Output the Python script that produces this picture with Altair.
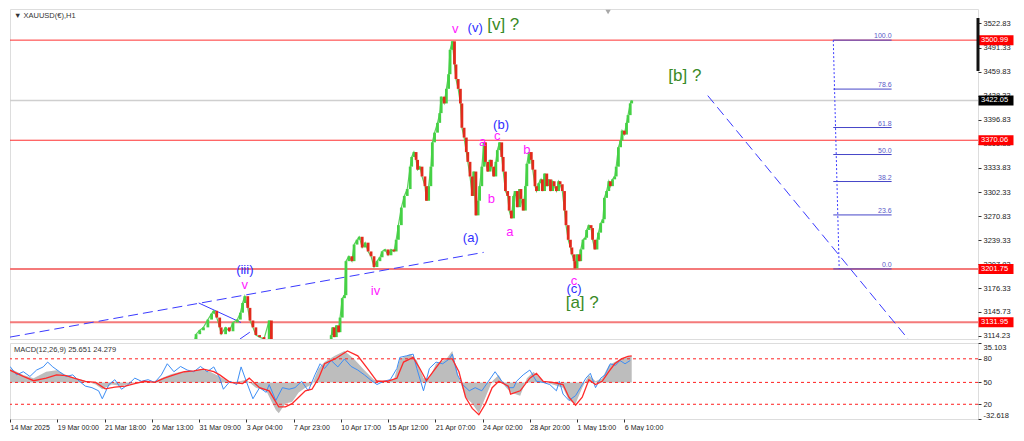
import altair as alt
import pandas as pd

FONT = "Liberation Sans"

# ---------------- x axis: hourly bar index (64 bars between date labels) ----------------
date_tick_bars = [0, 64, 128, 192, 256, 320, 384, 448, 512, 576, 640, 704, 768, 832]
date_tick_labels = ["14 Mar 2025", "19 Mar 00:00", "21 Mar 18:00", "26 Mar 13:00", "31 Mar 09:00",
                    "3 Apr 04:00", "7 Apr 23:00", "10 Apr 17:00", "15 Apr 12:00", "21 Apr 07:00",
                    "24 Apr 02:00", "28 Apr 20:00", "1 May 15:00", "6 May 10:00"]
x_max_bar = 1311

# ---------------- price axis ----------------
price_axis_values = [3522.83, 3491.33, 3459.83, 3428.33, 3396.83, 3365.33, 3333.83, 3302.33,
                     3270.83, 3239.33, 3207.83, 3176.33, 3145.73, 3114.23]
price_min = 3110.1
price_max = 3541.7

# ---------------- XAUUSD H1 closes (sampled) ----------------
close_bars = [0, 16, 32, 48, 64, 80, 96, 112, 128, 144, 160, 176, 192, 208, 224, 240, 248,
              252, 257, 262, 268, 273, 276, 280, 284, 286, 292, 297, 302, 308, 312, 315, 318, 322, 325,
              329, 333, 338, 344, 351, 354, 362, 372, 382, 392, 404, 416, 426, 432,
              435, 437, 439, 442, 445, 447, 450, 453, 455, 459, 463, 466, 470, 473, 477, 481, 485, 489,
              493, 497, 501, 504, 508, 512, 516, 520, 523, 526, 530, 534, 538, 542, 544, 547, 550, 552,
              555, 558, 562, 564, 567, 570, 572, 575, 579, 582, 584, 588, 591, 594, 596, 599, 602, 604,
              607, 610, 612, 615, 618, 620, 623, 626, 628, 631, 634, 636, 639, 642, 644, 647, 650, 652,
              655, 658, 660, 663, 666, 668, 671, 674, 676, 679, 682, 684, 687, 690, 692, 695, 698, 700,
              703, 706, 708, 711, 713, 716, 719, 721, 724, 727, 729, 732, 735, 737, 740, 743, 745, 748,
              751, 753, 756, 759, 761, 764, 765, 768, 771, 773, 776, 779, 781, 784, 787, 789, 792, 795,
              797, 800, 803, 805, 808, 811, 813, 816, 819, 821, 824, 827, 829, 832, 835, 837, 840, 842]
close_prices = [2988, 2982, 3000, 3035, 3030, 3045, 3052, 3048, 3025, 3022, 3012, 3018, 3020, 3034, 3058, 3080, 3100,
                3116.4, 3121.5, 3125.3, 3135.5, 3143.2, 3147.0, 3138.1, 3125.3, 3116.4, 3125.3, 3120.2, 3131.7,
                3135.5, 3144.5, 3157.2, 3166.1, 3150.8, 3134.3,
                3125.3, 3115.2, 3112.6, 3110.1, 3134.3, 3080, 3060, 3040, 3020, 2975, 2990, 2985, 3010, 3080,
                3115.0, 3125.3, 3112.6, 3127.9, 3119.0, 3138.1, 3163.5, 3167.4, 3211.9, 3218.3, 3211.9, 3233.6,
                3239.9, 3243.8, 3229.8, 3236.1, 3224.6, 3218.3,
                3204.3, 3211.9, 3217.0, 3224.6, 3227.2, 3219.6, 3227.2, 3224.6, 3239.9, 3259.0, 3282.0, 3297.2,
                3306.2, 3335.5, 3348.2, 3354.6, 3344.4, 3331.6,
                3335.5, 3322.7, 3310.0, 3290.9, 3310.0, 3335.5, 3367.3, 3380.0, 3392.8, 3405.5, 3427.1, 3418.2,
                3437.3, 3456.4, 3488.3, 3499.5, 3469.2, 3450.1,
                3437.3, 3418.2, 3386.4, 3373.6, 3354.6, 3341.8, 3322.7, 3297.2, 3329.1, 3271.8, 3290.9, 3310.0,
                3335.5, 3367.3, 3341.8, 3329.1, 3344.4, 3335.5,
                3322.7, 3341.8, 3357.1, 3367.3, 3348.2, 3329.1, 3303.6, 3297.2, 3278.1, 3267.9, 3297.2, 3303.6,
                3282.5, 3306.2, 3293.4, 3278.1, 3310.0, 3339.3,
                3354.6, 3344.4, 3331.6, 3310.0, 3303.6, 3313.8, 3318.9, 3303.6, 3326.5, 3310.0, 3318.9, 3303.6,
                3316.4, 3310.0, 3303.6, 3316.4, 3312.5, 3303.6,
                3278.1, 3259.0, 3239.9, 3229.8, 3220.8, 3211.9, 3202.5, 3220.8, 3211.9, 3227.2, 3239.9, 3242.5,
                3252.7, 3259.0, 3255.2, 3239.9, 3227.2, 3239.9,
                3249.2, 3261.6, 3266.7, 3294.7, 3303.6, 3316.4, 3310.0, 3318.9, 3322.7, 3335.5, 3360.9, 3369.8,
                3382.6, 3377.5, 3392.8, 3402.9, 3418.2, 3422.05]

# ---------------- horizontal levels ----------------
resistance_levels = [3500.99, 3370.06]
support_levels = [3201.75, 3131.95]
current_price = 3422.05

# ---------------- trend lines (bar, price) ----------------
up_trend_bars = [0, 641.5]
up_trend_prices = [3112.6, 3223.4]
down_trend_bars = [945, 1225]
down_trend_prices = [3428.4, 3099.9]
channel_a_bars = [255.6, 312.8]
channel_a_prices = [3157.2, 3131.7]
channel_b_bars = [311.5, 324.8]
channel_b_prices = [3110.1, 3119.0]

# ---------------- Fibonacci retracement ----------------
fib_levels = [0.0, 23.6, 38.2, 50.0, 61.8, 78.6, 100.0]
fib_low = 3201.75
fib_high = 3500.99
fib_bar_start = 1115
fib_bar_end = 1194
fib_vertical_bars = [1115, 1123]

# ---------------- Elliott wave labels ----------------
wave_text = ["v", "(v)", "[v] ?", "(b)", "c", "a", "b", "b", "a", "(a)", "c", "(c)", "[a] ?", "[b] ?",
             "(iii)", "v", "iv"]
wave_bar = [603, 630, 668, 665, 660, 640, 652, 700, 677, 624, 764, 764, 775, 914, 318, 318, 495]
wave_price = [3515.0, 3517.5, 3521.4, 3390.2, 3376.2, 3367.3, 3293.4, 3357.1, 3250.1, 3242.5, 3186.5,
              3175.0, 3157.2, 3453.9, 3200.5, 3180.1, 3172.5]
wave_degree = ["minuette", "minute", "minor", "minute", "minuette", "minuette", "minuette", "minuette",
               "minuette", "minute", "minuette", "minute", "minor", "minor", "minute", "minuette", "minuette"]

chart_title = "▼ XAUUSD(€),H1"
macd_title = "MACD(12,26,9) 25.651 24.279"
shift_marker_bar = 810

# ---------------- MACD window ----------------
macd_min = -32.618
macd_max = 35.103
hist_bars = [0, 18, 32, 49, 63, 76, 89, 102, 116, 125, 138, 151, 165, 178, 191, 205, 218, 231, 244, 258,
             271, 284, 298, 311, 320, 333, 347, 360, 364, 373, 382, 391, 400, 409, 418, 426, 440, 453, 466, 480,
             493, 506, 520, 528, 542, 551, 560, 568, 577, 591, 599, 608, 617, 626, 635, 644, 653, 662, 670,
             678, 691, 700, 709, 722, 735, 749, 757, 766, 775, 784, 793, 802, 811, 819, 828, 837, 842]
hist_values = [12.4, 6.7, 3.8, 9.5, 10.9, 6.7, 3.8, 1.5, -1.9, -6.1, -1.9, -3.3, -1.0, 1.0, 0, 3.8, 7.2, 9.5, 9.5, 11.8,
               9.5, 5.3, 0, 1.0, 2.4, -4.7, -7.5, -24.6, -27.4, -18.9, -17.5, -9.0, -4.7, -1.9, 12.4, 18.1, 23.7, 28.0, 20.9, 10.9,
               2.4, 1.0, 2.4, 20.9, 25.2, 19.5, 3.8, 3.8, 16.6, 20.9, 28.0, 3.8, -13.2, -18.9, -27.4, -13.2, 1.0, 6.7, -3.3,
               -9.0, -11.8, 3.8, 9.5, 1.0, -1.9, -4.7, -16.1, -18.9, -4.7, 6.7, 1.0, 3.8, 15.2, 18.1, 20.9, 22.3, 23.7]
signal_bars = [0, 18, 32, 49, 63, 76, 89, 102, 116, 129, 142, 156, 169, 182, 196, 209, 222, 236, 249, 262,
               276, 284, 298, 315, 324, 338, 351, 364, 373, 382, 391, 400, 409, 418, 426, 440, 457, 471, 484, 497,
               511, 524, 533, 546, 555, 564, 573, 586, 599, 608, 617, 626, 635, 644, 653, 662, 675,
               678, 691, 704, 713, 722, 735, 749, 757, 766, 775, 784, 793, 802, 811, 819, 828, 837, 842]
signal_values = [10.9, 5.3, 1.5, 3.8, 6.7, 6.1, 3.4, 1.0, 0, -5.7, -4.3, -3.3, -1.0, 1.0, 0, 3.8, 6.7, 9.5, 10.2, 11.8,
                 9.5, 6.7, 0, -1.0, 3.8, -4.7, -7.5, -21.8, -21.8, -18.9, -13.2, -7.5, -6.1, 3.8, 16.6, 20.9, 28.0, 23.7, 12.4, 1.0,
                 1.0, 3.8, 18.1, 22.3, 12.4, 1.5, 9.5, 20.9, 20.9, 9.5, -13.2, -23.2, -28.9, -18.9, -4.7, 1.0, -3.3,
                 -10.4, -7.5, 3.8, 8.1, 1.0, 0, -1.9, -13.2, -20.3, -13.2, 2.4, -1.9, 1.0, 9.5, 16.6, 20.9, 23.1, 23.7]
fast_bars = [0, 9, 18, 27, 36, 45, 51, 58, 67, 76, 85, 94, 102, 111, 120, 125, 134, 142, 151, 160,
             169, 178, 187, 196, 205, 213, 222, 231, 240, 249, 258, 267, 276, 284, 289, 298, 307, 313, 320, 329,
             338, 347, 351, 360, 369, 378, 386, 395, 404, 413, 420, 426, 435, 444, 453, 462, 471, 480, 488, 497,
             506, 515, 524, 528, 537, 546, 551, 560, 568, 577, 586, 595, 599, 606, 613, 622, 630, 639, 648, 657,
             666, 675, 682, 686, 695, 704, 713, 722, 731, 740, 744, 749, 757, 766, 775, 780, 786, 793, 800, 806,
             813, 820, 826, 833, 840]
fast_values = [14.2, 6.7, 9.5, 5.3, 11.0, 13.8, 18.1, 13.8, 9.5, 5.3, 6.7, 1.0, -3.3, -4.7, -7.5, -14.6, -1.9, 2.4, -6.1, -1.9,
               3.8, 1.0, 2.4, 0, 6.7, 16.6, 9.5, 14.2, 11.0, 9.5, 14.2, 9.5, 13.8, 3.8, -6.1, 1.0, -1.9, 13.8, 1.0, -14.6,
               -4.7, -8.9, -1.9, -16.1, -4.7, -6.1, -4.7, 1.0, -7.5, 6.7, 16.6, 12.4, 19.5, 13.8, 20.9, 14.2, 11.0, 6.7, 2.4, -1.9,
               1.0, 2.4, 12.4, 22.3, 23.7, 25.2, 12.4, -7.5, 12.4, 18.1, 16.6, 20.9, 25.2, 6.7, -1.9, -7.5, -4.7, -7.5, 1.0, 9.5,
               1.0, -4.7, -4.7, 1.0, 6.7, 11.0, 1.0, 0, -1.9, -7.5, 1.0, -10.4, -16.1, -11.8, -1.9, 3.8, 8.1, -4.7, 3.8, 6.7,
               16.6, 15.2, 19.5, 16.6, 19.5]
macd_levels = [21.0, 0.0, -19.5]
macd_axis_values = [35.103, 21.0, 0.0, -19.5, -32.618]
macd_axis_labels = ["35.103", "80", "50", "20", "-32.618"]

# ---------------- layout / style ----------------
W = 968
H_MAIN = 330
H_MACD = 76
RED = "#ff3030"
BLUE = "#3a3aff"
LBL = 7.5

x_scale = alt.Scale(domain=[0, x_max_bar], nice=False, zero=False)
y_price = alt.Scale(domain=[price_min, price_max], nice=False, zero=False)
y_macd = alt.Scale(domain=[macd_min, macd_max], nice=False, zero=False)

price_axis = alt.Axis(orient="right", values=price_axis_values, format=".2f", title=None, grid=False,
                      domain=False, tickSize=3, tickColor="#333", labelFontSize=LBL, labelFont=FONT,
                      labelColor="#222", labelPadding=2, zindex=0)
X_NONE = alt.X("bar:Q", scale=x_scale, axis=None)


def Yp(field):
    return alt.Y(field, scale=y_price, axis=price_axis)


# candles (open = previous close)
cd = pd.DataFrame({"bar": close_bars, "close": close_prices})
cd["open"] = cd["close"].shift(1).fillna(cd["close"])
cd_up = cd[cd["close"] >= cd["open"]]
cd_dn = cd[cd["close"] < cd["open"]]

close_path = alt.Chart(cd).mark_line(strokeWidth=1.2, clip=True, color="#5fcf5f").encode(
    x=X_NONE, y=Yp("close:Q"))
candles_up = alt.Chart(cd_up).mark_rule(strokeWidth=2.8, clip=True, color="#45d145").encode(
    x=X_NONE, y=Yp("open:Q"), y2="close:Q")
candles_dn = alt.Chart(cd_dn).mark_rule(strokeWidth=2.8, clip=True, color="#e22a1c").encode(
    x=X_NONE, y=Yp("open:Q"), y2="close:Q")

res_df = pd.DataFrame({"price": resistance_levels})
sup_df = pd.DataFrame({"price": support_levels})
cur_df = pd.DataFrame({"price": [current_price]})

res_lines = alt.Chart(res_df).mark_rule(color=RED, strokeWidth=1).encode(y=Yp("price:Q"))
sup_lines = alt.Chart(sup_df).mark_rule(color="#f47a7a", strokeWidth=2).encode(y=Yp("price:Q"))
cur_line = alt.Chart(cur_df).mark_rule(color="#cfcfcf", strokeWidth=1.5).encode(y=Yp("price:Q"))


def seg_df(name, bars, prices):
    return pd.DataFrame({"line": name, "bar": bars, "price": prices})


trend_df = pd.concat([seg_df("up", up_trend_bars, up_trend_prices),
                      seg_df("down", down_trend_bars, down_trend_prices)])
chan_df = pd.concat([seg_df("a", channel_a_bars, channel_a_prices),
                     seg_df("b", channel_b_bars, channel_b_prices)])

trend_lines = alt.Chart(trend_df).mark_line(color=BLUE, strokeWidth=1, strokeDash=[10, 5], clip=True).encode(
    x=X_NONE, y=Yp("price:Q"), detail="line:N")
chan_lines = alt.Chart(chan_df).mark_line(color=BLUE, strokeWidth=1, clip=True).encode(
    x=X_NONE, y=Yp("price:Q"), detail="line:N")

# fibonacci
fib_df = pd.DataFrame({"level": fib_levels})
fib_df["price"] = fib_low + fib_df["level"] / 100.0 * (fib_high - fib_low)
fib_df["x1"] = fib_bar_start
fib_df["x2"] = fib_bar_end
fib_df["label"] = [f"{v:.1f}" for v in fib_levels]
fib_lines = alt.Chart(fib_df).mark_rule(color="#4646c8", strokeWidth=1).encode(
    x=alt.X("x1:Q", scale=x_scale, axis=None), x2="x2:Q", y=Yp("price:Q"))
fib_text = alt.Chart(fib_df).mark_text(align="right", baseline="bottom", dy=-1, fontSize=7, font=FONT,
                                       color="#5a5ac8").encode(
    x=alt.X("x2:Q", scale=x_scale, axis=None), y=Yp("price:Q"), text="label:N")
fibv_df = pd.DataFrame({"x1": [fib_vertical_bars[0]], "x2": [fib_vertical_bars[1]],
                        "p1": [fib_high], "p2": [fib_low]})
fib_vert = alt.Chart(fibv_df).mark_rule(color="#3c3cff", strokeWidth=1, strokeDash=[2, 2]).encode(
    x=alt.X("x1:Q", scale=x_scale, axis=None), x2="x2:Q", y=Yp("p1:Q"), y2="p2:Q")

# wave labels (one layer per wave degree)
wave_df = pd.DataFrame({"text": wave_text, "bar": wave_bar, "price": wave_price, "degree": wave_degree})
degree_style = {"minuette": ("#ff1aff", 13), "minute": ("#2f2fff", 13), "minor": ("#3a8a26", 17)}
wave_layers = []
for deg, (col, fs) in degree_style.items():
    wave_layers.append(
        alt.Chart(wave_df).transform_filter(alt.datum.degree == deg).mark_text(
            font=FONT, baseline="middle", align="center", color=col, fontSize=fs).encode(
            x=X_NONE, y=Yp("price:Q"), text="text:N"))

# price tags on the axis
res_tag_df = pd.DataFrame({"price": resistance_levels + support_levels})
tags_red = alt.Chart(res_tag_df).mark_tick(orient="horizontal", size=35, thickness=10, color="#ff0000",
                                           opacity=1).encode(x=alt.value(W + 18), y=Yp("price:Q"))
tags_red_txt = alt.Chart(res_tag_df).mark_text(align="left", baseline="middle", fontSize=LBL, font=FONT,
                                               color="white").encode(
    x=alt.value(W + 3), y=Yp("price:Q"), text=alt.Text("price:Q", format=".2f"))
tag_cur = alt.Chart(cur_df).mark_tick(orient="horizontal", size=35, thickness=10, color="#000000",
                                      opacity=1).encode(x=alt.value(W + 18), y=Yp("price:Q"))
tag_cur_txt = alt.Chart(cur_df).mark_text(align="left", baseline="middle", fontSize=LBL, font=FONT,
                                          color="white").encode(
    x=alt.value(W + 3), y=Yp("price:Q"), text=alt.Text("price:Q", format=".2f"))

title_txt = alt.Chart(pd.DataFrame({"t": [chart_title]})).mark_text(
    align="left", baseline="middle", fontSize=LBL, font=FONT, color="#333").encode(
    x=alt.value(4), y=alt.value(7), text="t:N")
shift_mark = alt.Chart(pd.DataFrame({"bar": [shift_marker_bar]})).mark_point(
    shape="triangle-down", filled=True, size=28, color="#a8a8a8", opacity=1).encode(
    x=X_NONE, y=alt.value(3))
scroll_bar = alt.Chart(pd.DataFrame({"k": [0]})).mark_rule(color="#111", strokeWidth=3).encode(
    x=alt.value(W), y=alt.value(9), y2=alt.value(62))

main = alt.layer(
    cur_line, res_lines, sup_lines, trend_lines, chan_lines, fib_lines, fib_vert, fib_text,
    close_path, candles_up, candles_dn, *wave_layers, tags_red, tags_red_txt, tag_cur, tag_cur_txt,
    title_txt, shift_mark, scroll_bar,
).properties(width=W, height=H_MAIN)

# ---------------- MACD panel ----------------
date_expr = ("[" + ",".join(f"'{l}'" for l in date_tick_labels) + "][indexof(["
             + ",".join(str(v) for v in date_tick_bars) + "], datum.value)]")
macd_expr = ("[" + ",".join(f"'{l}'" for l in macd_axis_labels) + "][indexof(["
             + ",".join(repr(v) for v in macd_axis_values) + "], datum.value)]")

x_axis = alt.Axis(values=date_tick_bars, labelExpr=date_expr, labelAlign="left", labelFontSize=7,
                  labelFont=FONT, labelColor="#222", tickSize=3, tickColor="#333", labelPadding=1,
                  domain=False, grid=False, title=None, labelOverlap=False, labelFlush=False, zindex=0)
macd_axis = alt.Axis(orient="right", values=macd_axis_values, labelExpr=macd_expr, title=None, grid=False,
                     domain=False, tickSize=3, tickColor="#333", labelFontSize=LBL, labelFont=FONT,
                     labelColor="#222", labelPadding=2, labelFlush=True, zindex=0)
XM = alt.X("bar:Q", scale=x_scale, axis=x_axis)


def Ym(field):
    return alt.Y(field, scale=y_macd, axis=macd_axis)


hist_df = pd.DataFrame({"bar": hist_bars, "value": hist_values})
hist_df["base"] = 0.0
sig_df = pd.DataFrame({"bar": signal_bars, "value": signal_values})
fast_df = pd.DataFrame({"bar": fast_bars, "value": fast_values})
lvl_df = pd.DataFrame({"value": macd_levels})

hist = alt.Chart(hist_df).mark_area(color="#bdbdbd", opacity=1, clip=True).encode(
    x=XM, y=Ym("value:Q"), y2="base:Q")
lvls = alt.Chart(lvl_df).mark_rule(color="#ff2020", strokeWidth=1, strokeDash=[3, 3]).encode(y=Ym("value:Q"))
fast = alt.Chart(fast_df).mark_line(color="#3d8ef5", strokeWidth=1, clip=True).encode(x=XM, y=Ym("value:Q"))
sig = alt.Chart(sig_df).mark_line(color="#ff2a2a", strokeWidth=1.3, clip=True).encode(x=XM, y=Ym("value:Q"))
macd_txt = alt.Chart(pd.DataFrame({"t": [macd_title]})).mark_text(
    align="left", baseline="middle", fontSize=LBL, font=FONT, color="#333").encode(
    x=alt.value(4), y=alt.value(7), text="t:N")

macd = alt.layer(hist, lvls, fast, sig, macd_txt).properties(width=W, height=H_MACD)

chart = alt.vconcat(main, macd, spacing=2).properties(
    padding={"left": 0, "top": 0, "right": 0, "bottom": 0}
).configure_view(stroke="#3a3a3a", strokeWidth=1).configure(background="white")

chart.save("out.html", embed_options={"renderer": "svg", "actions": False})
